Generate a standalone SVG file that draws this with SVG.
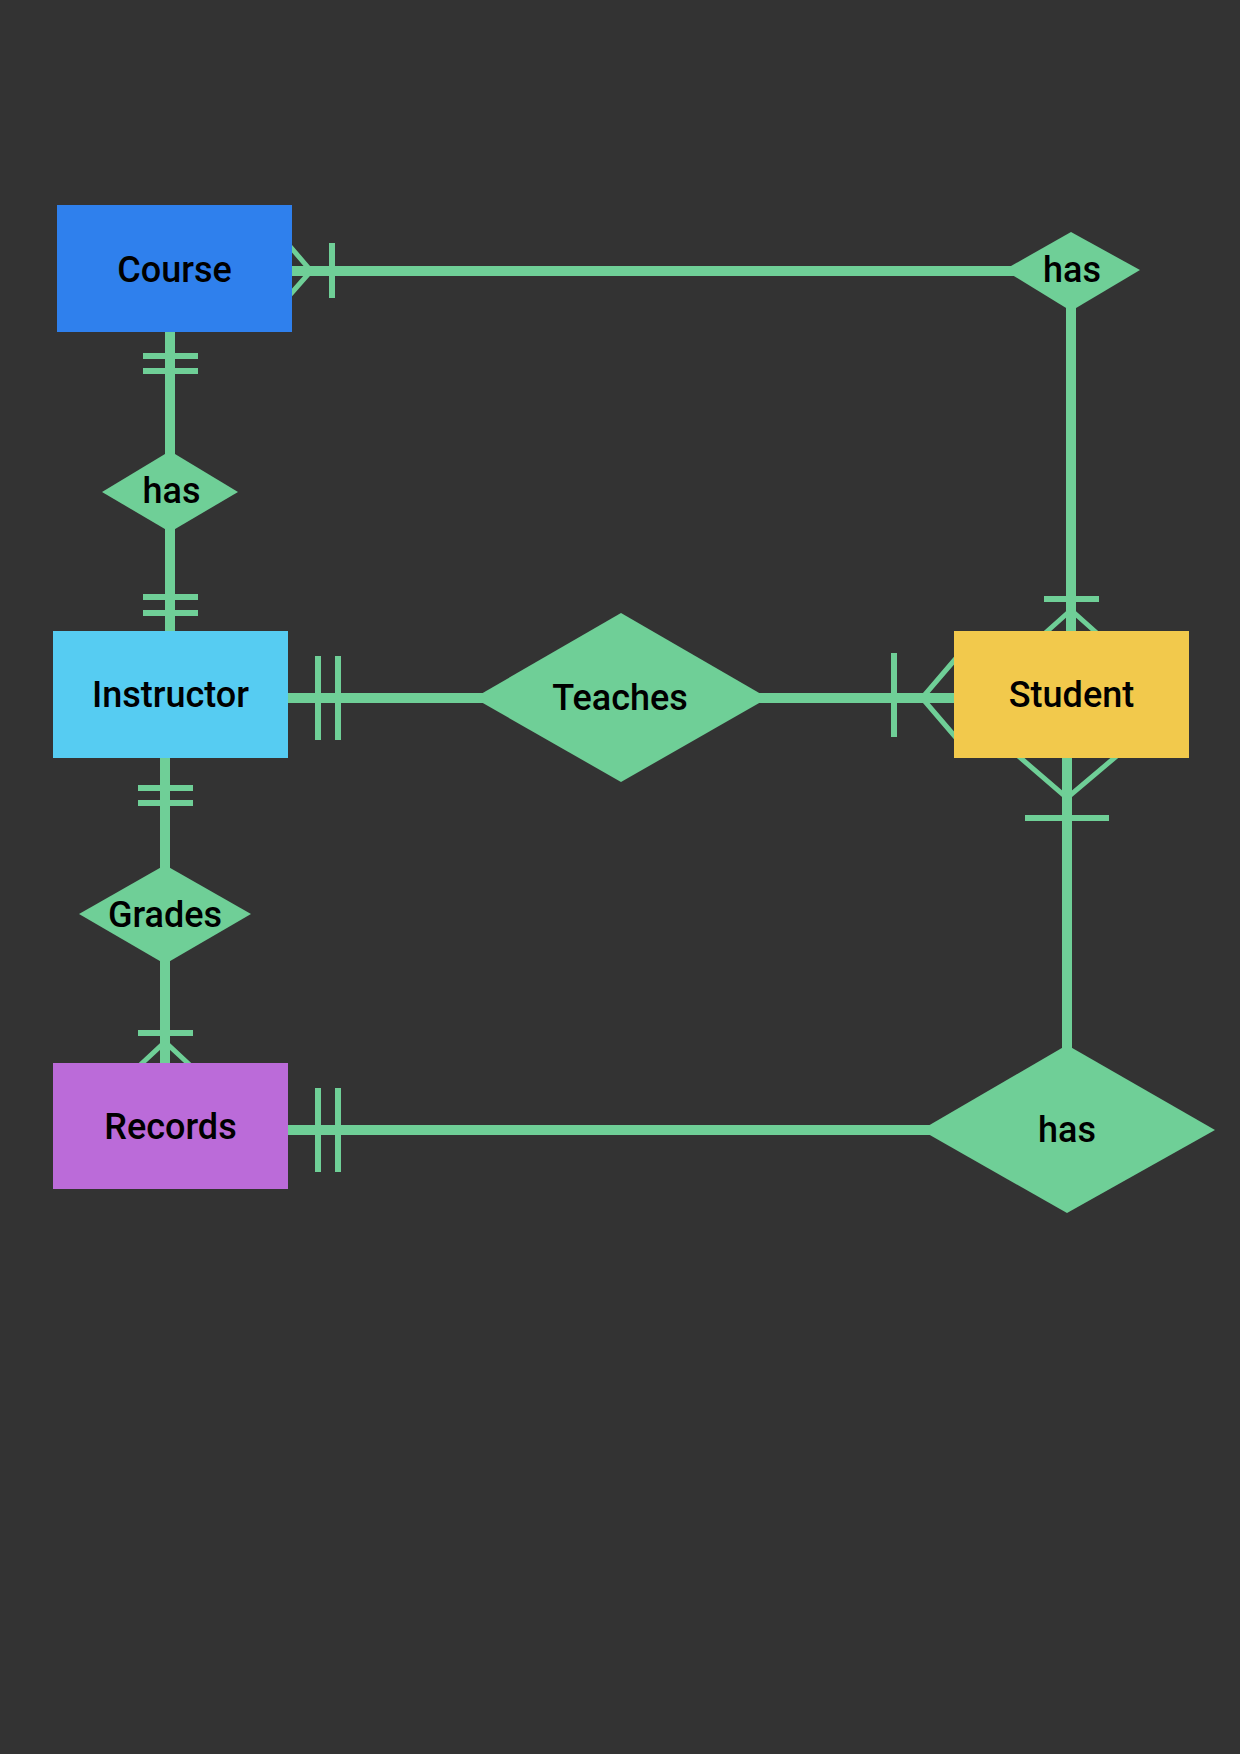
<svg xmlns="http://www.w3.org/2000/svg" width="1240" height="1754" viewBox="0 0 1240 1754">
<style>
.line{stroke:#6fcf97;stroke-width:10;fill:none}
.bar{stroke:#6fcf97;stroke-width:6;fill:none}
.foot{stroke:#6fcf97;stroke-width:5;fill:none}
.rel{fill:#6fcf97}
.lbl{font-family:Roboto,"Liberation Sans",sans-serif;font-weight:500;font-size:36px;fill:#000;text-anchor:middle}
</style>
<rect width="1240" height="1754" fill="#333333"/>
<g id="connectors">
<!-- Course - has(top) - Student -->
<line class="line" x1="292" y1="271" x2="1015" y2="271"/>
<line class="line" x1="1071" y1="300" x2="1071" y2="631"/>
<path class="foot" d="M288 244 L311 271 L288 297"/>
<line class="bar" x1="332" y1="243" x2="332" y2="298"/>
<path class="foot" d="M1043 635 L1071 610 L1099 635"/>
<line class="bar" x1="1044" y1="599" x2="1099" y2="599"/>
<!-- Course - has(left) - Instructor -->
<line class="line" x1="170" y1="332" x2="170" y2="631"/>
<line class="bar" x1="143" y1="356" x2="198" y2="356"/>
<line class="bar" x1="143" y1="371" x2="198" y2="371"/>
<line class="bar" x1="143" y1="597" x2="198" y2="597"/>
<line class="bar" x1="143" y1="613" x2="198" y2="613"/>
<!-- Instructor - Teaches - Student -->
<line class="line" x1="288" y1="698" x2="954" y2="698"/>
<line class="bar" x1="318" y1="656" x2="318" y2="740"/>
<line class="bar" x1="338" y1="656" x2="338" y2="740"/>
<path class="foot" d="M958 656 L922 698 L958 740"/>
<line class="bar" x1="894" y1="653" x2="894" y2="737"/>
<!-- Instructor - Grades - Records -->
<line class="line" x1="165" y1="758" x2="165" y2="1063"/>
<line class="bar" x1="138" y1="788" x2="193" y2="788"/>
<line class="bar" x1="138" y1="803" x2="193" y2="803"/>
<line class="bar" x1="138" y1="1033" x2="193" y2="1033"/>
<path class="foot" d="M138 1067 L165 1042 L192 1067"/>
<!-- Records - has(bottom) - Student -->
<line class="line" x1="288" y1="1130" x2="935" y2="1130"/>
<line class="bar" x1="318" y1="1088" x2="318" y2="1172"/>
<line class="bar" x1="338" y1="1088" x2="338" y2="1172"/>
<line class="line" x1="1067" y1="758" x2="1067" y2="1055"/>
<path class="foot" d="M1016 754 L1067 798 L1119 754"/>
<line class="bar" x1="1025" y1="818" x2="1109" y2="818"/>
</g>
<g id="course">
<rect x="57" y="205" width="235" height="127" fill="#2f80ed"/>
<text class="lbl" x="174.5" y="282">Course</text>
</g>
<g id="instructor">
<rect x="53" y="631" width="235" height="127" fill="#56ccf2"/>
<text class="lbl" x="170.5" y="707">Instructor</text>
</g>
<g id="student">
<rect x="954" y="631" width="235" height="127" fill="#f2c94c"/>
<text class="lbl" x="1071.5" y="707">Student</text>
</g>
<g id="records">
<rect x="53" y="1063" width="235" height="126" fill="#bb6bd9"/>
<text class="lbl" x="170.5" y="1139">Records</text>
</g>
<g id="has-course-student">
<polygon class="rel" points="1004,270 1071,232 1140,270 1071,311"/>
<text class="lbl" x="1072" y="282">has</text>
</g>
<g id="has-course-instructor">
<polygon class="rel" points="102,492 170,451 238,492 170,532"/>
<text class="lbl" x="171.5" y="503">has</text>
</g>
<g id="teaches">
<polygon class="rel" points="474,698 621,613 768,698 621,782"/>
<text class="lbl" x="620" y="710">Teaches</text>
</g>
<g id="grades">
<polygon class="rel" points="79,914 165,865 251,914 165,964"/>
<text class="lbl" x="165" y="927">Grades</text>
</g>
<g id="has-records-student">
<polygon class="rel" points="921,1130 1067,1045 1215,1130 1067,1213"/>
<text class="lbl" x="1067" y="1142">has</text>
</g>
</svg>
